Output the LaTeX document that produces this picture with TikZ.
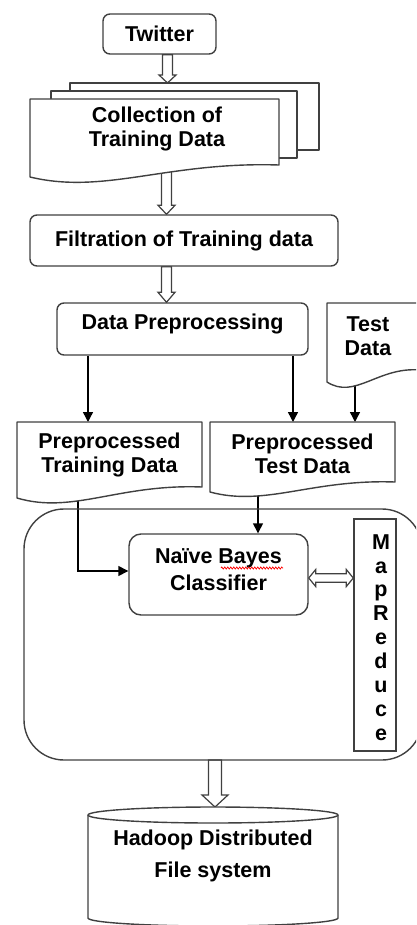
\documentclass[tikz,border=0pt]{standalone}
\usepackage{fontspec}
\setmainfont{Liberation Sans}
\usetikzlibrary{arrows.meta,calc,decorations.pathmorphing}
\pgfdeclarelayer{arrowl}
\pgfdeclarelayer{shapel}
\pgfsetlayers{arrowl,shapel,main}

\newcommand\fatdown[5]{%
 \draw[fat] let \p1=#1, \p2=#2 in (\x1-#3pt,\y1) -- (\x1-#3pt,\y2+#5pt) -- (\x1-#4pt,\y2+#5pt) -- (\x1,\y2) -- (\x1+#4pt,\y2+#5pt) -- (\x1+#3pt,\y2+#5pt) -- (\x1+#3pt,\y1) -- cycle;}
\newcommand\fatboth[2]{%
 \draw[fat] let \p1=#1, \p2=#2 in (\x1,\y1) -- (\x1+7pt,\y1+8.5pt) -- (\x1+7pt,\y1+4.3pt) -- (\x2-7pt,\y1+4.3pt) -- (\x2-7pt,\y1+8.5pt) -- (\x2,\y1) -- (\x2-7pt,\y1-8.5pt) -- (\x2-7pt,\y1-4.3pt) -- (\x1+7pt,\y1-4.3pt) -- (\x1+7pt,\y1-8.5pt) -- cycle;}
\newcommand\docout[2]{%
 \draw[outl] (#1.north west) -- (#1.north east) -- (#1.south east)
  .. controls ($(#1.south west)!0.55!(#1.south east)+(0,-0.3*#2)$) and ($(#1.south west)!0.3!(#1.south east)+(0,2.5*#2)$) .. ($(#1.south west)+(0,#2)$) -- cycle;}

\begin{document}
\begin{tikzpicture}[x=1pt,y=-1pt,
 box/.style={draw=black!75, line width=1.4pt, rounded corners=7pt, fill=white, inner sep=0pt},
 lbl/.style={font=\bfseries\fontsize{21.5}{24}\selectfont, align=center, inner sep=0pt},
 holder/.style={inner sep=0pt, outer sep=0pt},
 conn/.style={line width=1.4pt, -{Triangle[length=10pt,width=10pt]}},
 fat/.style={draw=black!75, line width=1.2pt, fill=white, line join=miter},
 outl/.style={draw=black!75, line width=1.4pt, fill=white, line join=round},
]
\useasboundingbox (0,0) rectangle (416,925);

% ---- nodes ----
\node[box, lbl, minimum width=113, minimum height=40] (tw) at (159.5,34) {Twitter};
\node[holder, minimum width=249, minimum height=67] (colb) at (194.5,116.5) {};
\node[holder, minimum width=246, minimum height=67] (colm) at (174,124.5) {};
\node[holder, minimum width=249, minimum height=66] (col) at (154.5,132) {};
\node[lbl] (colt) at (157,128.5) {Collection of\\Training Data};

\node[box, lbl, minimum width=308, minimum height=51] (fil) at (184,240.5) {Filtration of Training data};

\node[box, minimum width=251, minimum height=52] (dp) at (182.5,329) {};
\node[lbl] (dpt) at (182.5,324) {Data Preprocessing};

\node[holder, minimum width=93, minimum height=67] (td) at (373.5,336.5) {};
\node[lbl] (tdt) at (368,336.5) {Test\\Data};

\node[holder, minimum width=185, minimum height=65] (ptr) at (109.5,454.5) {};
\node[lbl] (ptrt) at (109.5,455) {Preprocessed\\Training Data};
\node[holder, minimum width=185, minimum height=60] (pte) at (302.5,452) {};
\node[lbl] (ptet) at (302.5,453.5) {Preprocessed\\Test Data};

\node[holder, minimum width=398, minimum height=251] (cont) at (223,634.5) {};

\node[box, rounded corners=12pt, minimum width=179, minimum height=81] (nb) at (218.5,574.5) {};
\node[lbl, font=\bfseries\fontsize{21.5}{27}\selectfont] (nbt) at (218.5,569.5) {Naïve Bayes\\Classifier};

\node[draw=black!75, line width=1.4pt, fill=white, minimum width=42, minimum height=232, inner sep=0pt] (mr) at (375,635) {};
\node[lbl, font=\bfseries\fontsize{21.5}{23.9}\selectfont] (mrt) at (381,637.5) {M\\a\\p\\R\\e\\d\\u\\c\\e};

\node[holder, minimum width=250, minimum height=103] (hd) at (213,866.5) {};
\node[lbl, font=\bfseries\fontsize{21.5}{32}\selectfont] (hdt) at (213,856) {Hadoop Distributed\\File system};

\coordinate (xa) at (88,0);
\coordinate (xb) at (293,0);
\coordinate (xc) at (355,0);
\coordinate (xd) at (258,0);
\coordinate (xe) at (78,0);
\coordinate (ya) at (0,571);
\coordinate (yb) at (0,578);

\draw[red, line width=0.7pt, decorate, decoration={zigzag, amplitude=1.1pt, segment length=3pt}] (221,568) -- (283,568);

% ---- connectors (bottom layer) ----
\begin{pgfonlayer}{arrowl}
\clip (0,0) rectangle (416,925);
\fatdown{($(tw.south)+(8,0)$)}{(colb.north)}{5}{8.5}{8}
\fatdown{($(col.south)+(12,0)$)}{(fil.north)}{5}{8.5}{9}
\fatdown{($(fil.south)+(-17.5,0)$)}{(dp.north)}{5}{8.5}{10}
\fatdown{($(cont.south)+(-8,0)$)}{($(hd.north)+(0,-8)$)}{6.5}{13}{12}
\fatboth{(nb.east |- yb)}{(mr.west |- yb)}
\draw[conn] (dp.south -| xa) -- (ptr.north -| xa);
\draw[conn] (dp.south -| xb) -- (pte.north -| xb);
\draw[conn] (td.south -| xc) -- (pte.north -| xc);
\draw[conn] (pte.south -| xd) -- (nb.north -| xd);
\draw[conn] (ptr.south -| xe) |- (nb.west |- ya);
\end{pgfonlayer}

% ---- outlined shapes ----
\begin{pgfonlayer}{shapel}
\clip (0,0) rectangle (416,925);
\draw[outl] (colb.north west) rectangle (colb.south east);
\draw[outl] (colm.north west) rectangle (colm.south east);
\docout{col}{12}
\docout{td}{12}
\docout{ptr}{11}
\docout{pte}{10}
\draw[outl, fill=none, rounded corners=40pt] (cont.north west) rectangle (cont.south east);
\draw[outl] (hd.north west) -- (hd.south west) arc[start angle=180, end angle=0, x radius=125, y radius=8] -- (hd.north east) arc[start angle=0, end angle=-180, x radius=125, y radius=8] -- cycle;
\draw[outl, fill=none] (hd.north west) arc[start angle=180, end angle=0, x radius=125, y radius=8];
\end{pgfonlayer}
\end{tikzpicture}
\end{document}
